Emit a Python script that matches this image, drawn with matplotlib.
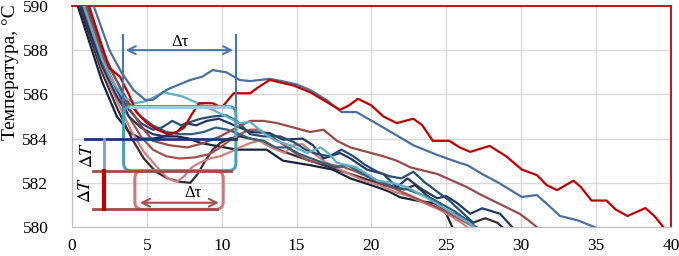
import numpy as np
import matplotlib
matplotlib.use('Agg')
import matplotlib.pyplot as plt
from matplotlib.patches import FancyBboxPatch

plt.rcParams['font.family'] = ['Liberation Serif', 'DejaVu Serif']
plt.rcParams['mathtext.fontset'] = 'stix'

# cooling curves: (x in min, T in deg C)
red_x = [0, 1, 2, 2.5, 3.2, 3.8, 4.3, 5.0, 5.7, 6.4, 7.0, 7.5, 8.0, 8.5, 9.4, 10.0, 10.8, 11.9, 12.4, 13.2,
         14.8, 15.9, 16.9, 17.9, 18.5, 19.1, 20.0, 20.8, 21.7, 22.8, 23.4, 24.1, 25.2, 25.9, 26.6, 27.9, 29.0,
         30.05, 31.05, 31.7, 32.4, 33.5, 34.0, 34.7, 35.7, 36.3, 37.1, 38.3, 38.9, 39.5, 40]
red_y = [591.8, 590.3, 588.2, 587.2, 586.8, 586.0, 585.2, 584.7, 584.4, 584.2, 584.3, 584.5, 585.1, 585.6, 585.6,
         585.4, 586.05, 586.05, 586.3, 586.65, 586.4, 586.1, 585.7, 585.3, 585.5, 585.8, 585.5, 585.0, 584.7, 584.9,
         584.6, 583.9, 583.9, 583.6, 583.4, 583.67, 583.2, 582.6, 582.35, 581.9, 581.67, 582.1, 581.8, 581.2, 581.2,
         580.8, 580.5, 580.86, 580.5, 580.0, 579.6]

blue_x = [0, 1, 1.5, 2.5, 3.3, 4.1, 4.9, 5.4, 5.7, 6.3, 7.0, 7.9, 8.7, 9.4, 9.8, 10.3, 11.2, 11.9, 13.2, 14.0,
          15.0, 15.9, 17.0, 18.0, 19.0, 19.9, 20.8, 21.8, 22.8, 24.4, 25.9, 26.4, 27.4, 28.5, 30.05, 31.05, 31.8,
          32.6, 33.8, 34.9, 35.5]
blue_y = [592.5, 590.7, 589.9, 588.0, 587.0, 586.2, 585.75, 585.75, 585.9, 586.2, 586.4, 586.65, 586.8, 587.1,
          587.05, 587.0, 586.65, 586.6, 586.7, 586.6, 586.45, 586.2, 585.75, 585.2, 585.2, 584.85, 584.5, 584.1,
          583.7, 583.26, 582.9, 582.8, 582.4, 582.0, 581.36, 581.45, 581.0, 580.5, 580.3, 580.0, 579.8]

cyan_x = [0, 1, 2, 2.8, 3.4, 4.2, 5.0, 6.1, 7.4, 8.4, 9.4, 10.3, 11.2, 11.9, 12.8, 13.6, 14.6, 15.7, 16.6, 17.2,
          17.7, 19.0, 20.4, 21.4, 22.4, 23.5, 24.5, 25.5, 26.5, 27.2]
cyan_y = [591.5, 589.6, 587.6, 586.5, 585.9, 585.6, 585.7, 586.1, 585.9, 585.6, 585.3, 585.0, 584.7, 584.75,
          584.25, 583.9, 583.7, 583.35, 583.6, 583.3, 582.9, 582.7, 582.1, 582.0, 581.8, 581.4, 581.0, 580.6,
          580.2, 579.8]

brown1_x = [0, 1, 2, 3, 3.8, 4.6, 5.4, 6.5, 7.7, 8.8, 9.9, 11.0, 11.9, 12.8, 13.7, 14.8, 15.9, 16.8, 17.7, 18.6,
            19.7, 20.8, 21.7, 22.6, 23.5, 24.4, 25.4, 26.4, 27.2, 28.1, 29.0, 29.9, 30.5, 31.05, 31.5]
brown1_y = [591.6, 589.8, 587.8, 586.6, 585.4, 584.6, 583.9, 583.7, 583.6, 583.8, 584.1, 584.5, 584.8, 584.8,
            584.7, 584.5, 584.3, 584.4, 583.9, 583.6, 583.4, 583.2, 583.0, 582.7, 582.55, 582.4, 582.1, 581.8,
            581.5, 581.2, 580.9, 580.6, 580.3, 580.0, 579.8]

brown2_x = [0, 1, 2, 3, 3.8, 4.6, 5.4, 6.3, 7.2, 8.2, 9.2, 9.9, 10.5, 11.2, 11.9, 12.5, 13.3, 14.2, 15.0, 15.8,
            16.6, 17.4, 18.2, 19.0, 20.0, 21.0, 22.0, 23.0, 24.0, 25.0, 25.8, 26.6, 27.3]
brown2_y = [591.4, 589.5, 587.5, 586.2, 585.0, 584.1, 583.5, 583.2, 583.1, 583.15, 583.3, 583.6, 583.9, 584.2,
            584.4, 584.4, 584.1, 583.7, 583.3, 583.0, 582.9, 582.8, 582.7, 582.5, 582.2, 581.9, 581.6, 581.3,
            581.0, 580.7, 580.4, 580.1, 579.8]

rose_x = [0, 1, 2, 3, 4, 4.8, 5.7, 6.4, 7.0, 7.5, 8.0, 8.5, 9.2, 9.9, 10.6, 11.2, 11.9, 12.5, 13.3, 14.2, 14.8,
          15.4, 16.0, 16.8, 17.6, 18.5, 19.5, 20.5, 21.5, 22.5, 23.5, 24.5, 25.3, 26.0, 26.6]
rose_y = [591.3, 589.3, 587.2, 585.7, 584.3, 583.4, 582.7, 582.2, 582.05, 582.3, 582.7, 582.9, 583.1, 583.2,
          583.4, 583.6, 583.8, 583.9, 583.6, 583.35, 583.7, 583.75, 583.4, 583.0, 582.7, 582.4, 582.1, 581.9,
          581.6, 581.4, 581.1, 580.8, 580.5, 580.2, 579.9]

dark_x = [0, 1, 2, 3, 4, 4.8, 5.6, 6.4, 7.2, 7.9, 8.4, 8.9, 9.4, 9.9, 10.5, 11.2, 11.9, 12.6, 13.4, 14.2, 15.0,
          15.9, 16.8, 17.7, 18.6, 19.5, 20.4, 21.3, 22.2, 22.9, 23.6, 24.4, 25.2, 25.9, 26.8, 27.6, 28.4, 28.9]
dark_y = [591.0, 589.0, 587.0, 585.4, 584.0, 583.1, 582.5, 582.2, 582.05, 582.0, 582.4, 583.0, 583.5, 583.8,
          584.0, 584.1, 584.0, 583.9, 583.6, 583.4, 583.2, 583.0, 582.8, 582.6, 582.4, 582.2, 582.0, 581.8,
          581.7, 581.9, 581.5, 581.0, 580.7, 580.5, 580.2, 580.4, 580.2, 579.9]

navy1_x = [0, 1, 2, 3, 3.8, 4.6, 5.4, 6.2, 7.0, 7.6, 8.3, 9.0, 9.8, 10.5, 11.2, 11.9, 13.2, 14.1, 15.4, 16.1,
           16.8, 17.9, 18.6, 19.7, 20.8, 21.7, 22.4, 23.4, 24.4, 25.0, 25.7, 26.6, 27.4, 28.6, 29.4]
navy1_y = [591.2, 589.2, 587.3, 585.9, 585.0, 584.5, 584.2, 584.1, 584.3, 584.7, 584.6, 584.8, 584.9, 584.7,
           584.5, 584.3, 584.25, 583.95, 584.0, 583.7, 583.1, 583.35, 583.1, 582.6, 582.4, 581.8, 582.2, 581.7,
           581.3, 581.4, 581.1, 580.6, 580.85, 580.6, 580.0]

navy2_x = [0, 1, 2, 3, 3.8, 4.6, 5.4, 6.0, 6.7, 7.3, 7.9, 8.6, 9.4, 10.3, 11.0, 11.9, 12.8, 13.9, 14.8, 15.6,
           16.4, 17.2, 18.0, 18.8, 19.6, 20.4, 21.2, 22.0, 22.8, 23.6, 24.4, 25.2, 26.0, 26.8]
navy2_y = [591.6, 589.7, 587.7, 586.2, 585.3, 584.7, 584.4, 584.5, 584.8, 584.6, 584.75, 584.9, 585.0, 585.05,
           584.8, 584.2, 584.1, 584.1, 583.85, 583.5, 583.3, 583.2, 583.5, 583.2, 582.8, 582.5, 582.3, 582.2,
           582.5, 582.0, 581.6, 581.2, 580.7, 580.2]

darkest_x = [0, 1, 2, 3, 3.8, 4.6, 5.4, 6.2, 7.0, 7.8, 8.6, 9.4, 10.2, 11.0, 11.9, 13.0, 14.1, 15.0, 15.9, 17.4,
             18.6, 19.5, 20.4, 21.2, 21.9, 23.0, 24.0, 24.6, 25.0, 25.4]
darkest_y = [590.8, 588.7, 586.6, 585.0, 584.3, 584.0, 584.0, 584.1, 584.1, 584.0, 583.8, 583.7, 583.6, 583.5,
             583.5, 583.5, 583.0, 582.9, 582.8, 582.6, 582.2, 582.0, 581.8, 581.6, 581.35, 581.2, 581.1, 581.0,
             580.6, 580.0]

teal_x = [0, 1, 2, 3, 3.8, 4.6, 5.4, 6.3, 7.2, 8.0, 8.8, 9.6, 10.4, 11.2, 11.9, 12.8, 13.6, 14.4, 15.2, 16.0,
          16.8, 17.6, 18.4, 19.2, 20.0, 20.8, 21.6, 22.4, 23.2, 24.0, 24.8, 25.6, 26.4, 27.0]
teal_y = [591.9, 590.0, 588.0, 586.6, 585.6, 585.0, 584.6, 584.3, 584.2, 584.2, 584.3, 584.5, 584.4, 584.2,
          584.0, 583.9, 583.6, 583.6, 583.3, 583.1, 582.9, 582.7, 582.8, 582.5, 582.2, 582.0, 581.8, 581.7,
          581.5, 581.3, 581.0, 580.7, 580.3, 580.0]

curves = [
    (darkest_x, darkest_y, '#16243a'),
    (dark_x, dark_y, '#3b2a33'),
    (rose_x, rose_y, '#cf7f7d'),
    (brown2_x, brown2_y, '#a3514f'),
    (teal_x, teal_y, '#2f5f7f'),
    (navy1_x, navy1_y, '#1f3864'),
    (navy2_x, navy2_y, '#284d73'),
    (brown1_x, brown1_y, '#9a4a48'),
    (cyan_x, cyan_y, '#5fb0c8'),
    (blue_x, blue_y, '#4a6fa0'),
    (red_x, red_y, '#c00000'),
]

fig = plt.figure(figsize=(6.79, 2.56), dpi=100)
ax = fig.add_axes([0.106, 0.113, 0.882, 0.864])

for xs, ys, c in curves:
    ax.plot(xs, ys, color=c, lw=1.6, zorder=3, solid_joinstyle='round')

# annotation: upper delta tau
ax.plot([3.4, 3.4], [588.7, 584.0], color='#4a76ae', lw=1.5, zorder=4)
ax.plot([10.95, 10.95], [588.7, 584.0], color='#4a76ae', lw=1.5, zorder=4)
ax.annotate('', xy=(3.4, 588.0), xytext=(10.95, 588.0),
            arrowprops=dict(arrowstyle='<->', color='#4a76ae', lw=1.5, mutation_scale=14))
ax.text(7.2, 588.35, 'Δτ', ha='center', va='center', fontsize=12)

box1 = FancyBboxPatch((3.45, 582.55), 7.5, 2.9, boxstyle='round,pad=0,rounding_size=0.5',
                      mutation_aspect=0.68, fill=False, ec='#4ba0b5', lw=2.2, zorder=5)
ax.add_patch(box1)
ax.plot([3.9, 10.5], [585.45, 585.45], color='#9bcbdc', lw=2.2, zorder=5)

# reference lines and delta T
ax.plot([0.87, 10.95], [584.0, 584.0], color='#1f3864', lw=2, zorder=6)
ax.plot([1.4, 10.6], [582.55, 582.55], color='#9e4b4a', lw=2, zorder=6)
ax.plot([1.4, 9.7], [580.8, 580.8], color='#9e4b4a', lw=2, zorder=6)
ax.plot([2.14, 2.14], [584.0, 582.55], color='#7f9fd0', lw=2, zorder=6)
ax.plot([2.14, 2.14], [582.55, 580.8], color='#c00000', lw=3, zorder=6)
ax.text(1.07, 583.26, r'$\Delta T$', rotation=90, ha='center', va='center', fontsize=13)
ax.text(0.93, 581.67, r'$\Delta T$', rotation=90, ha='center', va='center', fontsize=13)

# annotation: lower delta tau
box2 = FancyBboxPatch((4.2, 580.8), 5.9, 1.75, boxstyle='round,pad=0,rounding_size=0.5',
                      mutation_aspect=0.68, fill=False, ec='#c97b7a', lw=2.2, zorder=5)
ax.add_patch(box2)
ax.annotate('', xy=(4.35, 581.1), xytext=(10.0, 581.1),
            arrowprops=dict(arrowstyle='<->', color='#a0504f', lw=1.5, mutation_scale=14), zorder=6)
ax.text(8.1, 581.55, 'Δτ', ha='center', va='center', fontsize=12)

ax.set_xlim(0, 40)
ax.set_ylim(580, 590)
ax.set_xticks(np.arange(0, 41, 5))
ax.set_yticks(np.arange(580, 591, 2))
ax.grid(True, color='#d9d9d9', lw=1)
ax.set_axisbelow(True)
ax.tick_params(length=0, labelsize=12.5, pad=8)
ax.tick_params(axis='y', pad=17)
for s in ['left', 'bottom']:
    ax.spines[s].set_color('#bfbfbf')
for s in ['top', 'right']:
    ax.spines[s].set_color('#c00000')
    ax.spines[s].set_linewidth(1.3)

ax.set_ylabel('Температура, °С', fontsize=14)
ax.yaxis.set_label_coords(-0.088, 0.70)

plt.savefig('out.png', dpi=100)
